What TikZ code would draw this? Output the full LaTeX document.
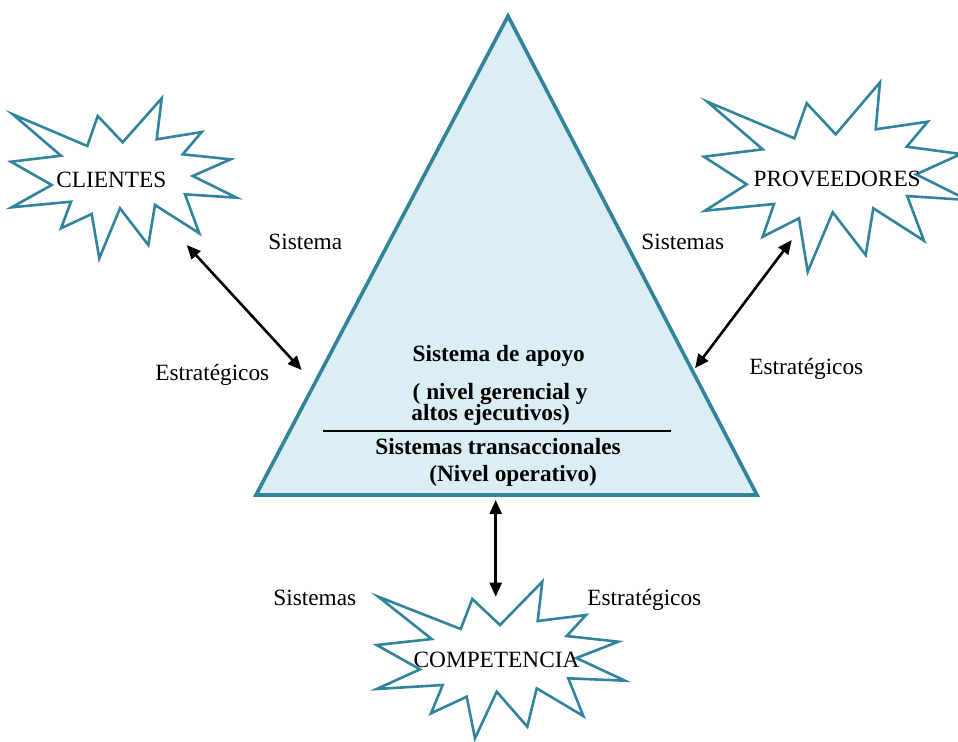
\documentclass[tikz,border=0pt]{standalone}
\usepackage{fontspec}
\setmainfont{Liberation Serif}
\usetikzlibrary{arrows.meta}
\definecolor{teal5}{HTML}{31849B}
\definecolor{tfill}{HTML}{DAEEF3}
\begin{document}
\begin{tikzpicture}[x=0.5pt,y=-0.5pt,
  burst/.style={draw=teal5,line width=1.3pt,line join=miter,fill=white},
  pyr/.style={draw=teal5,line width=1.8pt,fill=tfill,line join=miter},
  lbl/.style={font=\fontsize{11.65}{14}\selectfont,inner sep=0pt,anchor=base west},
  blbl/.style={font=\fontsize{11.65}{14}\selectfont\bfseries,inner sep=0pt,anchor=base west},
  conn/.style={line width=1.3pt,{Triangle[length=7pt,width=6pt]}-{Triangle[length=7pt,width=6pt]}}]
\useasboundingbox (0,0) rectangle (958,741);
\clip (0,0) rectangle (958,741);
% pyramid
\draw[pyr] (508,16) coordinate (apex) -- (757,495) coordinate (br) -- (256,495) coordinate (bl) -- cycle;
% starbursts
\draw[burst] (12.7,114.3) -- (87.3,146) -- (97.7,116) -- (122.7,142.3) -- (161.7,98.3) -- (156.7,139.3) -- (201.7,132) -- (182.7,154.3) -- (230.7,159.3) -- (192.7,176) -- (236.7,197.7) -- (185,194.3) -- (199.3,233.3) -- (155,205) -- (148.3,245) -- (120,208.3) -- (99.3,258.3) -- (91.7,214) -- (61,228.3) -- (71,201.7) -- (11.7,207.3) -- (51.7,185) -- (11,161.7) -- (61,155.7) -- cycle;
\draw[burst] (707.3,101.7) -- (794.3,138.3) -- (806.7,103.3) -- (835.7,134.3) -- (880,82.3) -- (875.7,129.3) -- (927.7,121.7) -- (906.7,146.7) -- (961,154) -- (916.2,174.3) -- (967.6,200) -- (907.2,196) -- (924,240.7) -- (873.3,208.3) -- (865.7,255) -- (832.7,212.3) -- (807.7,271.7) -- (799,218.3) -- (762.7,236.7) -- (774,204) -- (705,210.7) -- (746.7,184.3) -- (704,156.7) -- (762.7,149.3) -- cycle;
\draw[burst] (378.3,596.7) -- (460.7,629) -- (472.3,599) -- (500,625) -- (542.3,581.7) -- (537.7,621) -- (586,615) -- (566.7,636) -- (618.3,641.7) -- (576.4,658) -- (625,680.7) -- (568.3,678.3) -- (583.3,716) -- (536.7,688.3) -- (527.3,726.7) -- (496.7,691.7) -- (475,738.3) -- (466.7,696.7) -- (431,713.3) -- (442.7,685) -- (376.7,689) -- (420,669.3) -- (376.7,645) -- (431.7,639) -- cycle;
% burst labels
\node[lbl] (clientes) at (56,187.3) {CLIENTES};
\node[lbl] (proveedores) at (753.3,186.7) {PROVEEDORES};
\node[lbl] (competencia) at (413.3,667.7) {COMPETENCIA};
% side labels
\node[lbl] (s1) at (268,249) {Sistema};
\node[lbl] (e1) at (155,380) {Estratégicos};
\node[lbl] (s2) at (641,249) {Sistemas};
\node[lbl] (e2) at (749,374) {Estratégicos};
\node[lbl] (s3) at (273,605) {Sistemas};
\node[lbl] (e3) at (587,605) {Estratégicos};
% pyramid text
\node[blbl] (t1) at (412.3,361.5) {Sistema de apoyo};
\node[blbl] (t2) at (412.3,399.3) {( nivel gerencial y};
\node[blbl] (t3) at (411,420.7) {altos ejecutivos)};
\coordinate (divL) at (323.3,431);
\coordinate (divR) at (670.7,431);
\draw[line width=1pt] (divL) -- (divR);
\node[blbl] (t4) at (375,454) {Sistemas transaccionales};
\node[blbl] (t5) at (429,481.7) {(Nivel operativo)};
% connectors
\coordinate (cA) at (186.7,245);
\coordinate (cB) at (301.7,370);
\coordinate (pA) at (791.7,240);
\coordinate (pB) at (695,368.3);
\coordinate (kA) at (495.7,500);
\coordinate (kB) at (495.7,596.7);
\draw[conn] (cA) -- (cB);
\draw[conn] (pA) -- (pB);
\draw[conn] (kA) -- (kB);
\end{tikzpicture}
\end{document}
